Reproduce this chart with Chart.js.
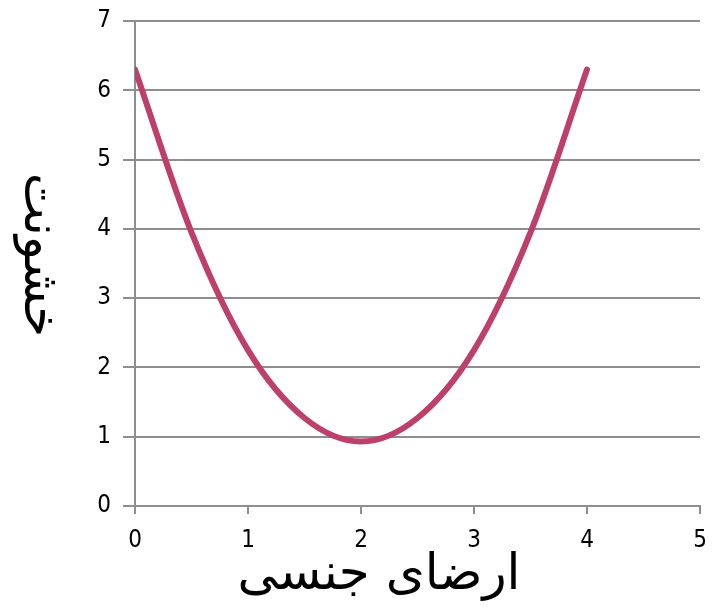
<!DOCTYPE html>
<html lang="fa">
<head>
    <meta charset="UTF-8">
    <title>خشونت / ارضای جنسی</title>
    <script src="https://cdn.jsdelivr.net/npm/chart.js"></script>
    <style>
        html, body { margin: 0; padding: 0; background: #fff; }
        #wrap { width: 712px; height: 611px; }
    </style>
</head>
<body>
    <div id="wrap"><canvas id="curveChart"></canvas></div>
    <script>
        // values
        const xValues = [0, 0.5, 1, 1.5, 2, 2.5, 3, 3.5, 4];
        const yValues = [6.3, 3.95, 2.25, 1.27, 0.93, 1.27, 2.25, 3.95, 6.3];
        const xTitle = 'ارضای جنسی';
        const yTitle = 'خشونت';

        const points = xValues.map((x, i) => ({ x: x, y: yValues[i] }));
        const gridGray = '#8e8e8e';
        const tickFont = { family: '"DejaVu Sans Condensed", "DejaVu Sans"', size: 24 };

        // axis titles, y one turned clockwise like the original
        const axisTitles = {
            id: 'axisTitles',
            afterDraw(chart) {
                const ctx = chart.ctx;
                ctx.save();
                ctx.fillStyle = '#000';
                ctx.font = '50px "DejaVu Sans"';
                ctx.textAlign = 'center';
                ctx.textBaseline = 'middle';
                ctx.fillText(xTitle, 379, 576);
                ctx.translate(38, 255);
                ctx.rotate(Math.PI / 2);
                ctx.fillText(yTitle, 0, 0);
                ctx.restore();
            }
        };

        new Chart(document.getElementById('curveChart'), {
            type: 'line',
            data: {
                datasets: [{
                    data: points,
                    borderColor: '#bd406b',
                    borderWidth: 6,
                    pointRadius: 0,
                    tension: 0.4,
                    cubicInterpolationMode: 'monotone',
                    borderCapStyle: 'round'
                }]
            },
            options: {
                responsive: true,
                maintainAspectRatio: false,
                animation: false,
                layout: { padding: { top: 21, right: 12, left: 0, bottom: 0 } },
                plugins: {
                    legend: { display: false },
                    tooltip: { enabled: false }
                },
                scales: {
                    x: {
                        type: 'linear',
                        min: 0,
                        max: 5,
                        ticks: { stepSize: 1, color: '#000', font: tickFont, padding: 12 },
                        grid: { drawOnChartArea: false, drawTicks: true, tickLength: 8, color: gridGray, lineWidth: 2 },
                        border: { color: gridGray, width: 2 },
                        afterFit(scale) {
                            scale.height = 105;
                            scale.paddingLeft = 0;
                            scale.paddingRight = 0;
                        }
                    },
                    y: {
                        min: 0,
                        max: 7,
                        ticks: { stepSize: 1, color: '#000', font: tickFont, padding: 12 },
                        grid: { color: gridGray, lineWidth: 2, tickLength: 12 },
                        border: { color: gridGray, width: 2 },
                        afterFit(scale) {
                            scale.width = 135;
                            scale.paddingTop = 0;
                            scale.paddingBottom = 0;
                        }
                    }
                }
            },
            plugins: [axisTitles]
        });
    </script>
</body>
</html>
